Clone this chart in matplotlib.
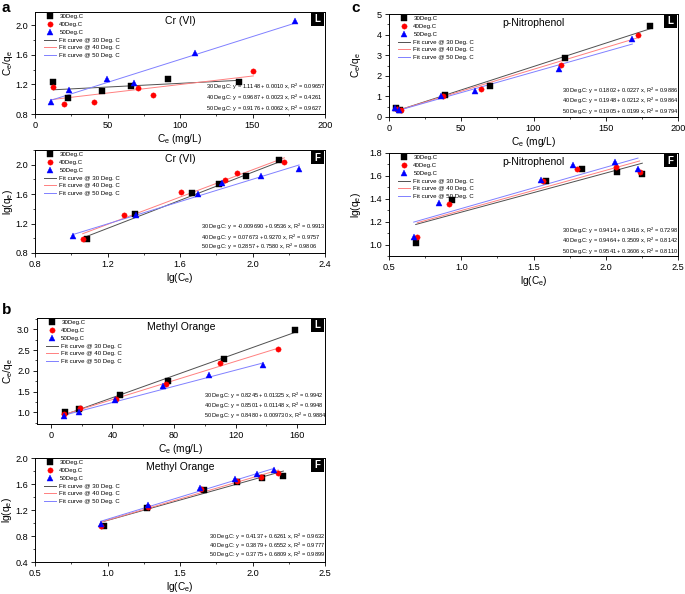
import matplotlib
matplotlib.use('Agg')
import matplotlib.pyplot as plt
from matplotlib.ticker import MultipleLocator
from matplotlib.patches import Rectangle

plt.rcParams['font.family'] = ['Liberation Sans', 'DejaVu Sans']
plt.rcParams['mathtext.fontset'] = 'custom'
plt.rcParams['mathtext.rm'] = 'Liberation Sans'
plt.rcParams['mathtext.it'] = 'Liberation Sans:italic'

temps = ['30', '40', '50']

# ---------- Cr(VI) Langmuir ----------
crL_x30 = [12.6, 23.0, 46.4, 66.0, 91.5, 140.5]
crL_y30 = [1.227, 1.02, 1.11, 1.18, 1.27, 1.227]
crL_x40 = [12.2, 20.2, 40.9, 70.8, 81.6, 150.6]
crL_y40 = [1.17, 0.94, 0.966, 1.155, 1.056, 1.384]
crL_x50 = [11.0, 23.4, 49.9, 68.3, 110.3, 179.3]
crL_y50 = [0.966, 1.13, 1.27, 1.22, 1.62, 2.06]
crL_icpt = ['1.1148', '0.9687', '0.9176']
crL_slope = ['0.0010', '0.0023', '0.0062']
crL_r2 = ['0.09657', '0.4261', '0.9627']

# ---------- Cr(VI) Freundlich ----------
crF_x30 = [1.089, 1.352, 1.664, 1.815, 1.962, 2.148]
crF_y30 = [0.993, 1.335, 1.618, 1.739, 1.852, 2.058]
crF_x40 = [1.063, 1.291, 1.606, 1.851, 1.912, 2.176]
crF_y40 = [0.993, 1.314, 1.627, 1.793, 1.888, 2.040]
crF_x50 = [1.011, 1.357, 1.697, 1.833, 2.045, 2.257]
crF_y50 = [1.029, 1.312, 1.596, 1.753, 1.843, 1.946]
crF_icpt = ['-0.009690', '0.07673', '0.2857']
crF_slope = ['0.9536', '0.9270', '0.7580']
crF_r2 = ['0.9913', '0.9757', '0.9806']

# ---------- Methyl Orange Langmuir ----------
moL_x30 = [9.4, 18.1, 44.8, 75.8, 112.4, 158.3]
moL_y30 = [1.016, 1.07, 1.41, 1.763, 2.293, 2.984]
moL_x40 = [8.5, 18.8, 42.6, 74.9, 110.0, 147.6]
moL_y40 = [0.95, 1.096, 1.31, 1.69, 2.197, 2.518]
moL_x50 = [8.7, 18.3, 41.9, 72.9, 102.8, 137.6]
moL_y50 = [0.92, 1.016, 1.29, 1.626, 1.90, 2.14]
moL_icpt = ['0.8245', '0.8501', '0.8480']
moL_slope = ['0.01325', '0.01148', '0.009730']
moL_r2 = ['0.9942', '0.9948', '0.9884']

# ---------- Methyl Orange Freundlich ----------
moF_x30 = [0.976, 1.270, 1.666, 1.893, 2.068, 2.213]
moF_y30 = [0.958, 1.234, 1.510, 1.635, 1.697, 1.728]
moF_x40 = [0.955, 1.282, 1.643, 1.891, 2.059, 2.178]
moF_y40 = [0.958, 1.244, 1.525, 1.645, 1.708, 1.770]
moF_x50 = [0.953, 1.282, 1.636, 1.879, 2.029, 2.150]
moF_y50 = [0.984, 1.281, 1.531, 1.672, 1.750, 1.822]
moF_icpt = ['0.4137', '0.3879', '0.3775']
moF_slope = ['0.6261', '0.6552', '0.6809']
moF_r2 = ['0.9632', '0.9777', '0.9899']

# ---------- p-Nitrophenol Langmuir ----------
pnL_x30 = [4.6, 7.8, 38.5, 69.7, 121.6, 180.9]
pnL_y30 = [0.42, 0.35, 1.06, 1.50, 2.84, 4.42]
pnL_x40 = [5.5, 8.1, 37.4, 63.9, 119.3, 172.3]
pnL_y40 = [0.39, 0.34, 1.03, 1.37, 2.52, 4.00]
pnL_x50 = [4.4, 6.7, 36.2, 59.8, 117.7, 168.4]
pnL_y50 = [0.45, 0.35, 1.03, 1.27, 2.32, 3.77]
pnL_icpt = ['0.1802', '0.1948', '0.1905']
pnL_slope = ['0.0227', '0.0212', '0.0199']
pnL_r2 = ['0.9886', '0.9864', '0.9794']

# ---------- p-Nitrophenol Freundlich ----------
pnF_x30 = [0.685, 0.938, 1.589, 1.838, 2.080, 2.253]
pnF_y30 = [1.014, 1.390, 1.551, 1.662, 1.630, 1.615]
pnF_x40 = [0.696, 0.913, 1.566, 1.801, 2.069, 2.235]
pnF_y40 = [1.067, 1.352, 1.551, 1.662, 1.674, 1.630]
pnF_x50 = [0.671, 0.846, 1.555, 1.774, 2.062, 2.223]
pnF_y50 = [1.067, 1.361, 1.560, 1.692, 1.718, 1.659]
pnF_icpt = ['0.9414', '0.9464', '0.9541']
pnF_slope = ['0.3416', '0.3509', '0.3606']
pnF_r2 = ['0.7298', '0.8142', '0.8110']

W, H = 685, 594
fig = plt.figure(figsize=(W / 100, H / 100), dpi=100)

mk = ['s', 'o', '^']
mcol = ['black', 'red', 'blue']
lcol = ['#505050', '#ff8080', '#8080ff']


def axes_px(l, r, t, b):
    return fig.add_axes([l / W, 1 - b / H, (r - l) / W, (b - t) / H])


def draw(box, xs, ys, icpt, slope, r2, title, badge, xlim, ylim,
         xmaj, xmin, ymaj, ymin, xlabel, ylabel, eqx, eqys, ylab_px):
    ax = axes_px(*box)
    l, r, t, b = box
    hs = []
    for i in range(3):
        h, = ax.plot(xs[i], ys[i], linestyle='none', marker=mk[i], color=mcol[i],
                     markersize=3.8, markeredgewidth=0.3, zorder=3,
                     label=temps[i] + 'Deg.C')
        hs.append(h)
    for i in range(3):
        a = float(icpt[i]); bb = float(slope[i])
        x0, x1 = min(xs[i]), max(xs[i])
        h, = ax.plot([x0, x1], [a + bb * x0, a + bb * x1], color=lcol[i], lw=0.7,
                     zorder=2, label='Fit curve @ ' + temps[i] + ' Deg. C')
        hs.append(h)
    ax.set_xlim(*xlim)
    ax.set_ylim(*ylim)
    ax.xaxis.set_major_locator(MultipleLocator(xmaj))
    ax.xaxis.set_minor_locator(MultipleLocator(xmin))
    ax.yaxis.set_major_locator(MultipleLocator(ymaj))
    ax.yaxis.set_minor_locator(MultipleLocator(ymin))
    ax.tick_params(which='major', direction='out', length=3, width=0.6,
                   labelsize=6.6, pad=2.2)
    ax.tick_params(which='minor', direction='out', length=1.6, width=0.5)
    for s in ax.spines.values():
        s.set_linewidth(0.7)
    ax.set_xlabel(xlabel, fontsize=7.3, labelpad=1)
    ax.set_ylabel(ylabel, fontsize=7.3)
    ax.yaxis.set_label_coords((ylab_px - l) / (r - l), 0.5)
    ax.text(0.5, 0.965, title, transform=ax.transAxes, ha='center', va='top',
            fontsize=7.5)
    ax.legend(handles=hs, loc='upper left', bbox_to_anchor=(0.025, 1.0),
              frameon=False, fontsize=4.4, labelspacing=0.42,
              handlelength=2.0, handletextpad=0.5, borderpad=0.2,
              borderaxespad=0.1)
    for i in range(3):
        ax.text(eqx, eqys[i],
                temps[i] + ' Deg.C: y = ' + icpt[i] + ' + ' + slope[i] +
                ' x, R$^2$ = ' + r2[i],
                transform=ax.transAxes, ha='left', va='center', fontsize=4.1)
    # badge
    bw, bh = 12.5 / (r - l), 13.0 / (b - t)
    ax.add_patch(Rectangle((1 - bw - 1.5 / (r - l), 1 - bh - 1.0 / (b - t)), bw, bh,
                           transform=ax.transAxes, facecolor='black',
                           edgecolor='none', zorder=5))
    ax.text(1 - bw / 2 - 1.5 / (r - l), 1 - bh / 2 - 1.0 / (b - t), badge,
            transform=ax.transAxes, ha='center', va='center', color='white',
            fontsize=7, fontweight='bold', zorder=6)
    return ax


CeL = r'C$_{\rm e}$ (mg/L)'
CqL = r'C$_{\rm e}$/q$_{\rm e}$'
lgC = r'lg(C$_{\rm e}$)'
lgq = r'lg(q$_{\rm e}$)'

draw((35, 325, 12, 114), [crL_x30, crL_x40, crL_x50], [crL_y30, crL_y40, crL_y50],
     crL_icpt, crL_slope, crL_r2, 'Cr (VI)', 'L', (0, 200), (0.8, 2.18),
     50, 25, 0.4, 0.2, CeL, CqL, 0.589, [0.265, 0.157, 0.049], 15)
draw((35, 325, 150, 253), [crF_x30, crF_x40, crF_x50], [crF_y30, crF_y40, crF_y50],
     crF_icpt, crF_slope, crF_r2, 'Cr (VI)', 'F', (0.8, 2.4), (0.8, 2.2),
     0.4, 0.2, 0.4, 0.2, lgC, lgq, 0.572, [0.255, 0.148, 0.055], 15)
draw((37, 325, 318, 424), [moL_x30, moL_x40, moL_x50], [moL_y30, moL_y40, moL_y50],
     moL_icpt, moL_slope, moL_r2, 'Methyl Orange', 'L', (-9, 178), (0.72, 3.27),
     40, 20, 0.5, 0.25, CeL, CqL, 0.58, [0.267, 0.170, 0.073], 15)
draw((35, 325, 458, 562), [moF_x30, moF_x40, moF_x50], [moF_y30, moF_y40, moF_y50],
     moF_icpt, moF_slope, moF_r2, 'Methyl Orange', 'F', (0.5, 2.5), (0.4, 2.0),
     0.5, 0.25, 0.4, 0.2, lgC, lgq, 0.601, [0.24, 0.155, 0.07], 14)
draw((389, 678, 14, 117), [pnL_x30, pnL_x40, pnL_x50], [pnL_y30, pnL_y40, pnL_y50],
     pnL_icpt, pnL_slope, pnL_r2, 'p-Nitrophenol', 'L', (0, 200), (0, 5),
     50, 25, 1, 0.5, CeL, CqL, 0.5975, [0.255, 0.152, 0.051], 363)
draw((389, 678, 153, 256), [pnF_x30, pnF_x40, pnF_x50], [pnF_y30, pnF_y40, pnF_y50],
     pnF_icpt, pnF_slope, pnF_r2, 'p-Nitrophenol', 'F', (0.5, 2.5), (0.9, 1.8),
     0.5, 0.25, 0.2, 0.1, lgC, lgq, 0.5975, [0.246, 0.146, 0.042], 363)

fig.text(2 / W, 1 - 1 / H, 'a', fontsize=11, fontweight='bold', ha='left', va='top')
fig.text(2 / W, 1 - 303 / H, 'b', fontsize=11, fontweight='bold', ha='left', va='top')
fig.text(351 / W, 1 - 1 / H, 'c', fontsize=11, fontweight='bold', ha='left', va='top')

fig.savefig('out.png', dpi=100)
